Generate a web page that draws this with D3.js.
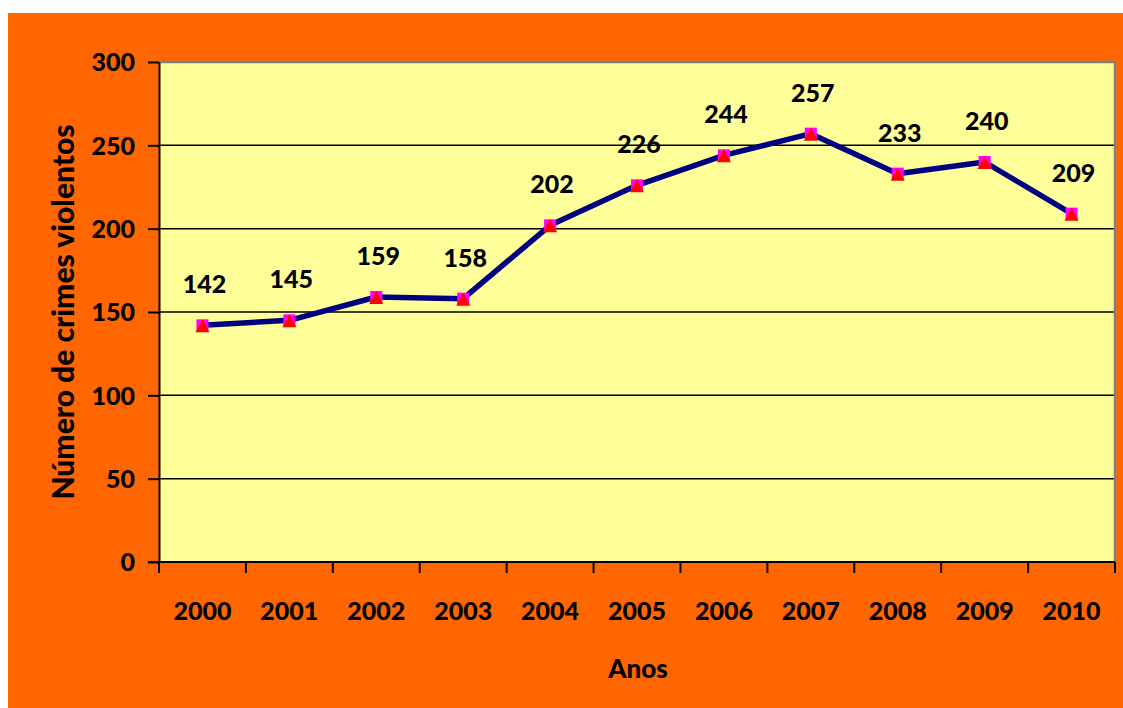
<!DOCTYPE html>
<html>
<head>
<meta charset="utf-8">
<script src="https://cdn.jsdelivr.net/npm/d3@7"></script>
<style>
  html, body { margin: 0; padding: 0; background: #fff; }
  svg { display: block; }
  text { font-family: Lato, "Open Sans", sans-serif; font-weight: 900; fill: #000; }
</style>
</head>
<body>
<svg id="chart" width="1123" height="708"></svg>
<script>
(function () {
  'use strict';

  var years = ['2000', '2001', '2002', '2003', '2004', '2005', '2006', '2007', '2008', '2009', '2010'];
  var crimes = [142, 145, 159, 158, 202, 226, 244, 257, 233, 240, 209];
  var yTicks = [0, 50, 100, 150, 200, 250, 300];

  var margin = { top: 62, right: 8, bottom: 146, left: 159 };
  var width = 1115 - margin.left;
  var height = 562 - margin.top;

  var svg = d3.select('#chart');

  // orange chart background
  svg.append('rect')
    .attr('x', 8).attr('y', 13)
    .attr('width', 1115).attr('height', 695)
    .attr('fill', '#FF6600');

  var g = svg.append('g')
    .attr('transform', 'translate(' + margin.left + ',' + margin.top + ')');

  var x = d3.scaleBand().domain(years).range([0, width]);
  var y = d3.scaleLinear().domain([0, 300]).range([height, 0]);

  // plot area
  g.append('rect')
    .attr('width', width).attr('height', height)
    .attr('fill', '#FFFF99');

  // grid lines
  g.selectAll('.grid')
    .data(yTicks.slice(1))
    .enter()
    .append('line')
    .attr('x1', 0).attr('x2', width)
    .attr('y1', function (d) { return y(d); })
    .attr('y2', function (d) { return y(d); })
    .attr('stroke', '#000').attr('stroke-width', 1.5);

  // gray border top and right
  g.append('path')
    .attr('d', 'M0,' + y(300) + 'H' + width + 'V' + height)
    .attr('fill', 'none').attr('stroke', '#808080').attr('stroke-width', 2.5);

  // y axis
  var yAxis = g.append('g')
    .call(d3.axisLeft(y).tickValues(yTicks).tickSize(11).tickSizeOuter(0).tickPadding(13));
  yAxis.select('.domain').attr('stroke', '#000').attr('stroke-width', 2);
  yAxis.selectAll('.tick line').attr('stroke', '#000').attr('stroke-width', 2);
  yAxis.selectAll('text')
    .style('font-size', '25px').style('font-family', 'Lato, sans-serif').style('font-weight', '900')
    .attr('dy', '0.35em');

  // x axis with ticks at band edges
  var xAxis = g.append('g').attr('transform', 'translate(0,' + height + ')');
  xAxis.append('line')
    .attr('x1', -11).attr('x2', width)
    .attr('stroke', '#000').attr('stroke-width', 2);
  var edges = years.map(function (d) { return x(d); }).concat([width]);
  xAxis.selectAll('.xtick')
    .data(edges)
    .enter()
    .append('line')
    .attr('x1', function (d) { return d; })
    .attr('x2', function (d) { return d; })
    .attr('y1', 0).attr('y2', 11)
    .attr('stroke', '#000').attr('stroke-width', 2);
  xAxis.selectAll('.xlabel')
    .data(years)
    .enter()
    .append('text')
    .attr('x', function (d) { return x(d) + x.bandwidth() / 2; })
    .attr('y', 58)
    .attr('text-anchor', 'middle')
    .style('font-size', '25px')
    .text(function (d) { return d; });

  // line
  var line = d3.line()
    .x(function (d, i) { return x(years[i]) + x.bandwidth() / 2; })
    .y(function (d) { return y(d); });

  g.append('path')
    .datum(crimes)
    .attr('d', line)
    .attr('fill', 'none')
    .attr('stroke', '#000080')
    .attr('stroke-width', 5.5)
    .attr('stroke-linejoin', 'round');

  // markers: magenta square behind red triangle
  var pts = g.selectAll('.pt')
    .data(crimes)
    .enter()
    .append('g')
    .attr('transform', function (d, i) {
      return 'translate(' + (x(years[i]) + x.bandwidth() / 2) + ',' + y(d) + ')';
    });
  pts.append('rect')
    .attr('x', -6).attr('y', -6).attr('width', 12).attr('height', 12)
    .attr('fill', '#FF00FF');
  pts.append('path')
    .attr('d', 'M0,-6L7,7H-7Z')
    .attr('fill', '#FF0000');

  // data labels
  g.selectAll('.lbl')
    .data(crimes)
    .enter()
    .append('text')
    .attr('x', function (d, i) { return x(years[i]) + x.bandwidth() / 2 + 2; })
    .attr('y', function (d) { return y(d) - 32; })
    .attr('text-anchor', 'middle')
    .style('font-size', '25px')
    .text(function (d) { return d; });

  // axis titles
  svg.append('text')
    .attr('transform', 'translate(74,312) rotate(-90)')
    .attr('text-anchor', 'middle')
    .style('font-size', '30px')
    .text('Número de crimes violentos');

  svg.append('text')
    .attr('x', 638).attr('y', 678)
    .attr('text-anchor', 'middle')
    .style('font-size', '26px')
    .text('Anos');
}());
</script>
</body>
</html>
